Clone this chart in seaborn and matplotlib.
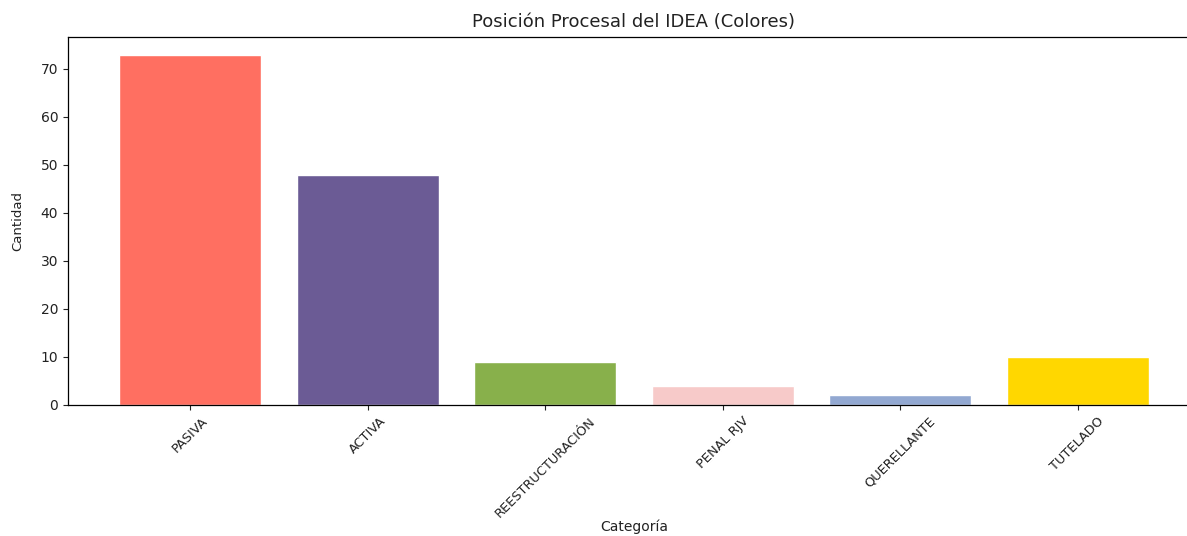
import pandas as pd
import matplotlib
matplotlib.use('Agg')
import matplotlib.pyplot as plt
import seaborn as sns

categorias = ['PASIVA', 'ACTIVA', 'REESTRUCTURACIÓN', 'PENAL RJV', 'QUERELLANTE', 'TUTELADO']
cantidades = [73, 48, 9, 4, 2, 10]
colores = ['#FF6F61', '#6B5B95', '#88B04B', '#F7CAC9', '#92A8D1', '#FFD700']

df = pd.DataFrame({'Categoría': categorias, 'Cantidad': cantidades})

sns.set_style("ticks")
plt.rcParams['font.family'] = ['DejaVu Sans']

fig = plt.figure(figsize=(11.87, 5.36), dpi=100)
# el eje derecho queda un poco fuera de la imagen, como en la original
ax = fig.add_axes([68 / 1187, 1 - 405 / 536, (1200 - 68) / 1187, (405 - 37) / 536])

sns.barplot(data=df, x='Categoría', y='Cantidad', hue='Categoría', palette=colores,
            saturation=1, width=0.8, legend=False, ax=ax)

ax.set_xlim(-0.69, 5.69)
ax.set_ylim(0, max(cantidades) * 1.05)
ax.set_title('Posición Procesal del IDEA (Colores)', fontsize=13, pad=7, color='#222222')
ax.set_xlabel('Categoría', fontsize=10, color='#222222')
ax.xaxis.set_label_coords(0.5, -0.31)
ax.set_ylabel('Cantidad', fontsize=9.5, labelpad=12, color='#222222')
ax.tick_params(axis='y', labelsize=10, colors='#222222')
ax.tick_params(axis='x', labelsize=9.3, colors='#222222')
plt.setp(ax.get_xticklabels(), rotation=45, ha='center')

for s in ax.spines.values():
    s.set_color('black')
    s.set_linewidth(0.9)

fig.savefig('out.png', dpi=100)
